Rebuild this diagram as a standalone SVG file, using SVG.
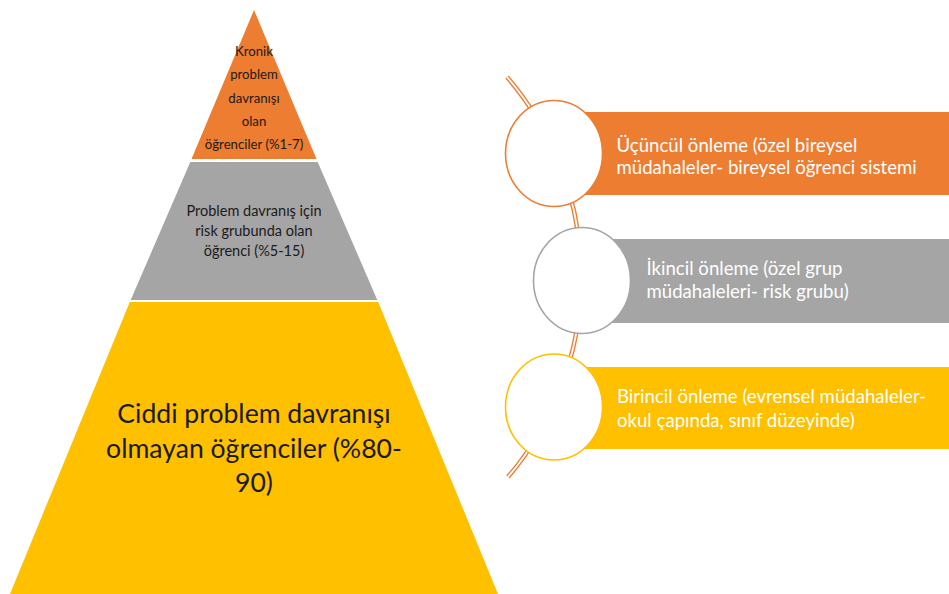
<svg xmlns="http://www.w3.org/2000/svg" width="949" height="594" viewBox="0 0 949 594">
<style>
.t{font-family:Lato,"Liberation Sans",sans-serif}
.dark{fill:#1a1a1a;text-anchor:middle}
.w{fill:#ffffff;font-size:18.6px}
.ring{fill:#ffffff;stroke-width:1.6}
</style>
<rect width="949" height="594" fill="#ffffff"/>
<g id="connectors">
<path d="M507,77 A308,308 0 0 1 508,477" fill="none" stroke="#ED7D31" stroke-width="4.5"/>
<path d="M507,77 A308,308 0 0 1 508,477" fill="none" stroke="#ffffff" stroke-width="1.8"/>
</g>
<g id="tier-top">
<polygon points="254,10 316.5,159 191.5,159" fill="#ED7D31"/>
<text class="t dark" font-size="13.2"><tspan x="254" y="56">Kronik</tspan><tspan x="254" y="79.3">problem</tspan><tspan x="254" y="102.6">davranışı</tspan><tspan x="254" y="125.9">olan</tspan><tspan x="254" y="149.2">öğrenciler (%1-7)</tspan></text>
</g>
<g id="tier-middle">
<polygon points="190.3,162 317.7,162 377.3,300 130.7,300" fill="#A5A5A5"/>
<text class="t dark" font-size="14.5"><tspan x="254" y="216">Problem davranış için</tspan><tspan x="254" y="236">risk grubunda olan</tspan><tspan x="254" y="255.5">öğrenci (%5-15)</tspan></text>
</g>
<g id="tier-bottom">
<polygon points="129.8,302 378.2,302 498,594 10,594" fill="#FFC000"/>
<text class="t dark" font-size="26.6"><tspan x="254" y="423">Ciddi problem davranışı</tspan><tspan x="254" y="457.5">olmayan öğrenciler (%80-</tspan><tspan x="254" y="492">90)</tspan></text>
</g>
<g id="level-tertiary">
<rect x="554" y="112" width="395" height="83" fill="#ED7D31"/>
<ellipse cx="554" cy="153.5" rx="48.5" ry="53" class="ring" stroke="#ED7D31"/>
<text class="t w"><tspan x="616.5" y="151.5">Üçüncül önleme (özel bireysel</tspan><tspan x="616.5" y="174">müdahaleler- bireysel öğrenci sistemi</tspan></text>
</g>
<g id="level-secondary">
<rect x="582" y="239" width="367" height="84" fill="#A5A5A5"/>
<ellipse cx="582" cy="280.5" rx="48.5" ry="53" class="ring" stroke="#A5A5A5"/>
<text class="t w"><tspan x="646.5" y="275">İkincil önleme (özel grup</tspan><tspan x="646.5" y="298">müdahaleleri- risk grubu)</tspan></text>
</g>
<g id="level-primary">
<rect x="554" y="367" width="395" height="82" fill="#FFC000"/>
<ellipse cx="554" cy="407" rx="48.5" ry="53" class="ring" stroke="#FFC000"/>
<text class="t w"><tspan x="617" y="403.3">Birincil önleme (evrensel müdahaleler-</tspan><tspan x="617" y="426.7">okul çapında, sınıf düzeyinde)</tspan></text>
</g>
</svg>
